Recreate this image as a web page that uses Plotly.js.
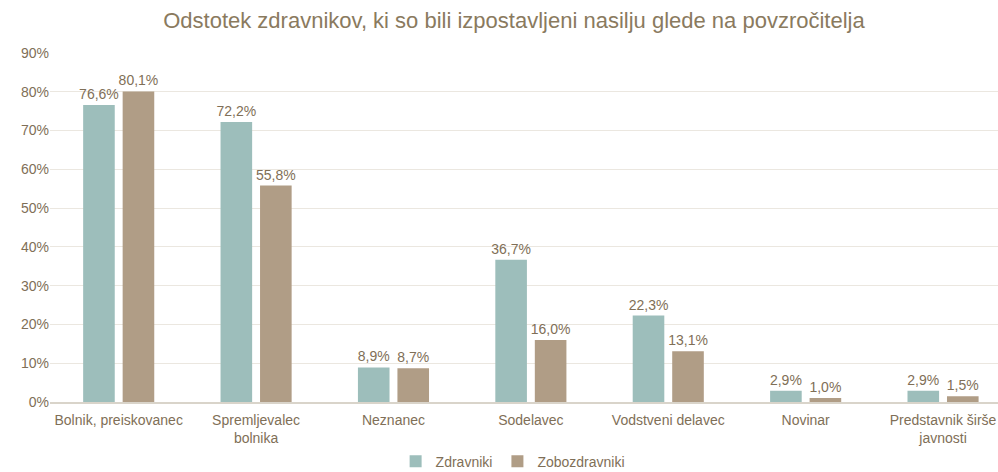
<!DOCTYPE html>
<html>
<head>
<meta charset="utf-8">
<script src="https://cdn.plot.ly/plotly-3.0.1.min.js"></script>
<style>
  html, body { margin: 0; padding: 0; background: #fff; }
  #chart { width: 998px; height: 472px; }
</style>
</head>
<body>
<div id="chart"></div>
<script>
// kategorije povzrociteljev
var categories = ['Bolnik, preiskovanec', 'Spremljevalec<br>bolnika', 'Neznanec', 'Sodelavec',
                  'Vodstveni delavec', 'Novinar', 'Predstavnik širše<br>javnosti'];
var zdravniki = [76.6, 72.2, 8.9, 36.7, 22.3, 2.9, 2.9];
var zobozdravniki = [80.1, 55.8, 8.7, 16.0, 13.1, 1.0, 1.5];

var txtColor = '#7f6f57';

var trace1 = {
  type: 'bar',
  x: categories,
  y: zdravniki,
  name: 'Zdravniki',
  marker: {color: '#9dbebb'},
  texttemplate: '%{y:.1f}%',
  textposition: 'outside',
  constraintext: 'none',
  cliponaxis: false,
  textfont: {family: 'Liberation Sans', size: 14, color: txtColor}
};

var trace2 = {
  type: 'bar',
  x: categories,
  y: zobozdravniki,
  name: 'Zobozdravniki',
  marker: {color: '#b09d86'},
  texttemplate: '%{y:.1f}%',
  textposition: 'outside',
  constraintext: 'none',
  cliponaxis: false,
  textfont: {family: 'Liberation Sans', size: 14, color: txtColor}
};

var layout = {
  width: 998,
  height: 472,
  separators: ',.',
  font: {family: 'Liberation Sans', size: 14, color: txtColor},
  title: {
    text: 'Odstotek zdravnikov, ki so bili izpostavljeni nasilju glede na povzročitelja',
    font: {family: 'Liberation Sans', size: 22, color: '#8a7a5e'},
    x: 0.515, xanchor: 'center', y: 0.957, yanchor: 'middle'
  },
  margin: {l: 50, r: 0, t: 53, b: 70},
  barmode: 'group',
  bargap: 0.425,
  bargroupgap: 0.2,
  showlegend: true,
  legend: {
    orientation: 'h', x: 0.488, xanchor: 'center',
    yref: 'container', y: 0.022, yanchor: 'middle',
    font: {size: 14, color: txtColor}, itemwidth: 30, traceorder: 'normal'
  },
  xaxis: {
    type: 'category',
    range: [-0.5, 6.4],
    showgrid: false,
    showline: true, linecolor: '#d9d4ca', linewidth: 2,
    ticks: '', ticklabelstandoff: 4,
    tickfont: {size: 14, color: txtColor},
    automargin: false
  },
  yaxis: {
    range: [0, 90], dtick: 10, ticksuffix: '%',
    showgrid: true, gridcolor: '#ebe7e0', gridwidth: 1,
    zeroline: false, showline: false, ticks: '',
    tickfont: {size: 14, color: txtColor},
    automargin: false
  },
  plot_bgcolor: '#fff',
  paper_bgcolor: '#fff'
};

Plotly.newPlot('chart', [trace1, trace2], layout, {displayModeBar: false});
</script>
</body>
</html>
